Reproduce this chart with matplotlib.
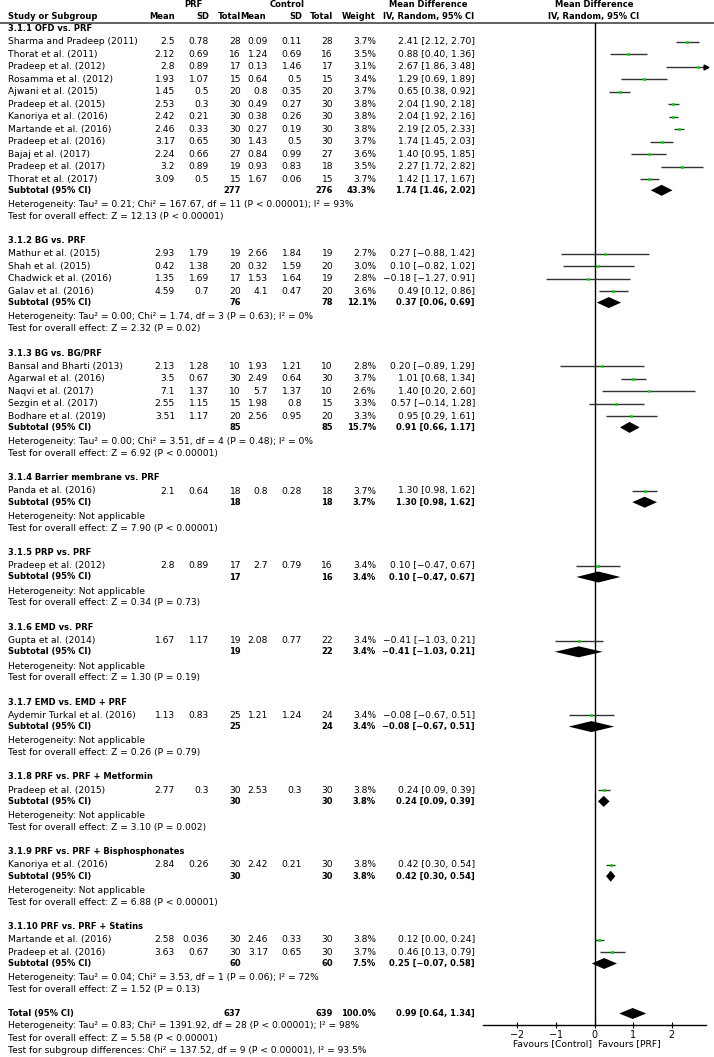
import matplotlib.pyplot as plt
from matplotlib.patches import Polygon

# subgroups
groups = ['3.1.1 OFD vs. PRF', '3.1.2 BG vs. PRF', '3.1.3 BG vs. BG/PRF',
          '3.1.4 Barrier membrane vs. PRF', '3.1.5 PRP vs. PRF', '3.1.6 EMD vs. PRF',
          '3.1.7 EMD vs. EMD + PRF', '3.1.8 PRF vs. PRF + Metformin',
          '3.1.9 PRF vs. PRF + Bisphosphonates', '3.1.10 PRF vs. PRF + Statins']
sub_n_prf = [277, 76, 85, 18, 17, 19, 25, 30, 30, 60]
sub_n_ctl = [276, 78, 85, 18, 16, 22, 24, 30, 30, 60]
sub_weight = [43.3, 12.1, 15.7, 3.7, 3.4, 3.4, 3.4, 3.8, 3.8, 7.5]
sub_md = [1.74, 0.37, 0.91, 1.30, 0.10, -0.41, -0.08, 0.24, 0.42, 0.25]
sub_lo = [1.46, 0.06, 0.66, 0.98, -0.47, -1.03, -0.67, 0.09, 0.30, -0.07]
sub_hi = [2.02, 0.69, 1.17, 1.62, 0.67, 0.21, 0.51, 0.39, 0.54, 0.58]
sub_het = ['Tau² = 0.21; Chi² = 167.67, df = 11 (P < 0.00001); I² = 93%',
           'Tau² = 0.00; Chi² = 1.74, df = 3 (P = 0.63); I² = 0%',
           'Tau² = 0.00; Chi² = 3.51, df = 4 (P = 0.48); I² = 0%',
           'Not applicable', 'Not applicable', 'Not applicable', 'Not applicable',
           'Not applicable', 'Not applicable',
           'Tau² = 0.04; Chi² = 3.53, df = 1 (P = 0.06); I² = 72%']
sub_z = ['Z = 12.13 (P < 0.00001)', 'Z = 2.32 (P = 0.02)', 'Z = 6.92 (P < 0.00001)',
         'Z = 7.90 (P < 0.00001)', 'Z = 0.34 (P = 0.73)', 'Z = 1.30 (P = 0.19)',
         'Z = 0.26 (P = 0.79)', 'Z = 3.10 (P = 0.002)', 'Z = 6.88 (P < 0.00001)',
         'Z = 1.52 (P = 0.13)']

# studies
studies = ['Sharma and Pradeep (2011)', 'Thorat et al. (2011)', 'Pradeep et al. (2012)',
           'Rosamma et al. (2012)', 'Ajwani et al. (2015)', 'Pradeep et al. (2015)',
           'Kanoriya et al. (2016)', 'Martande et al. (2016)', 'Pradeep et al. (2016)',
           'Bajaj et al. (2017)', 'Pradeep et al. (2017)', 'Thorat et al. (2017)',
           'Mathur et al. (2015)', 'Shah et al. (2015)', 'Chadwick et al. (2016)',
           'Galav et al. (2016)',
           'Bansal and Bharti (2013)', 'Agarwal et al. (2016)', 'Naqvi et al. (2017)',
           'Sezgin et al. (2017)', 'Bodhare et al. (2019)',
           'Panda et al. (2016)', 'Pradeep et al. (2012)', 'Gupta et al. (2014)',
           'Aydemir Turkal et al. (2016)', 'Pradeep et al. (2015)', 'Kanoriya et al. (2016)',
           'Martande et al. (2016)', 'Pradeep et al. (2016)']
study_group = [0] * 12 + [1] * 4 + [2] * 5 + [3, 4, 5, 6, 7, 8, 9, 9]
prf_mean = [2.5, 2.12, 2.8, 1.93, 1.45, 2.53, 2.42, 2.46, 3.17, 2.24, 3.2, 3.09,
            2.93, 0.42, 1.35, 4.59, 2.13, 3.5, 7.1, 2.55, 3.51,
            2.1, 2.8, 1.67, 1.13, 2.77, 2.84, 2.58, 3.63]
prf_sd = [0.78, 0.69, 0.89, 1.07, 0.5, 0.3, 0.21, 0.33, 0.65, 0.66, 0.89, 0.5,
          1.79, 1.38, 1.69, 0.7, 1.28, 0.67, 1.37, 1.15, 1.17,
          0.64, 0.89, 1.17, 0.83, 0.3, 0.26, 0.036, 0.67]
prf_n = [28, 16, 17, 15, 20, 30, 30, 30, 30, 27, 19, 15,
         19, 20, 17, 20, 10, 30, 10, 15, 20,
         18, 17, 19, 25, 30, 30, 30, 30]
ctl_mean = [0.09, 1.24, 0.13, 0.64, 0.8, 0.49, 0.38, 0.27, 1.43, 0.84, 0.93, 1.67,
            2.66, 0.32, 1.53, 4.1, 1.93, 2.49, 5.7, 1.98, 2.56,
            0.8, 2.7, 2.08, 1.21, 2.53, 2.42, 2.46, 3.17]
ctl_sd = [0.11, 0.69, 1.46, 0.5, 0.35, 0.27, 0.26, 0.19, 0.5, 0.99, 0.83, 0.06,
          1.84, 1.59, 1.64, 0.47, 1.21, 0.64, 1.37, 0.8, 0.95,
          0.28, 0.79, 0.77, 1.24, 0.3, 0.21, 0.33, 0.65]
ctl_n = [28, 16, 17, 15, 20, 30, 30, 30, 30, 27, 18, 15,
         19, 20, 19, 20, 10, 30, 10, 15, 20,
         18, 16, 22, 24, 30, 30, 30, 30]
weight = [3.7, 3.5, 3.1, 3.4, 3.7, 3.8, 3.8, 3.8, 3.7, 3.6, 3.5, 3.7,
          2.7, 3.0, 2.8, 3.6, 2.8, 3.7, 2.6, 3.3, 3.3,
          3.7, 3.4, 3.4, 3.4, 3.8, 3.8, 3.8, 3.7]
md = [2.41, 0.88, 2.67, 1.29, 0.65, 2.04, 2.04, 2.19, 1.74, 1.40, 2.27, 1.42,
      0.27, 0.10, -0.18, 0.49, 0.20, 1.01, 1.40, 0.57, 0.95,
      1.30, 0.10, -0.41, -0.08, 0.24, 0.42, 0.12, 0.46]
ci_lo = [2.12, 0.40, 1.86, 0.69, 0.38, 1.90, 1.92, 2.05, 1.45, 0.95, 1.72, 1.17,
         -0.88, -0.82, -1.27, 0.12, -0.89, 0.68, 0.20, -0.14, 0.29,
         0.98, -0.47, -1.03, -0.67, 0.09, 0.30, 0.00, 0.13]
ci_hi = [2.70, 1.36, 3.48, 1.89, 0.92, 2.18, 2.16, 2.33, 2.03, 1.85, 2.82, 1.67,
         1.42, 1.02, 0.91, 0.86, 1.29, 1.34, 2.60, 1.28, 1.61,
         1.62, 0.67, 0.21, 0.51, 0.39, 0.54, 0.24, 0.79]

total_n_prf, total_n_ctl = 637, 639
total_md, total_lo, total_hi = 0.99, 0.64, 1.34
total_notes = ['Heterogeneity: Tau² = 0.83; Chi² = 1391.92, df = 28 (P < 0.00001); I² = 98%',
               'Test for overall effect: Z = 5.58 (P < 0.00001)',
               'Test for subgroup differences: Chi² = 137.52, df = 9 (P < 0.00001), I² = 93.5%']

W, H = 714, 1057
FS = 6.55       # normal text
FSB = 6.05      # bold text (DejaVu bold runs wide)
xmin, xmax = -2.89, 2.89


def fmt_ci(m, lo, hi):
    s = f"{m:.2f} [{lo:.2f}, {hi:.2f}]"
    return s.replace('-', '\u2212')


fig = plt.figure(figsize=(W / 100, H / 100), dpi=100)
ax = fig.add_axes([0, 0, 1, 1])
ax.set_xlim(0, W)
ax.set_ylim(H, 0)
ax.axis('off')

# forest panel (y in same pixel units as the table)
top, bottom = 22.5, 1025
fx = fig.add_axes([483 / W, (H - bottom) / H, (706 - 483) / W, (bottom - top) / H])
fx.set_xlim(xmin, xmax)
fx.set_ylim(bottom, top)
fx.patch.set_alpha(0)
for s in ['top', 'left', 'right']:
    fx.spines[s].set_visible(False)
fx.spines['bottom'].set_linewidth(1)
fx.set_yticks([])
fx.set_xticks([-2, -1, 0, 1, 2])
fx.tick_params(axis='x', direction='inout', length=5, width=0.8, labelsize=FS + 0.3, pad=1)
fx.axvline(0, color='black', lw=1)


def put(x, y, s, ha='left', bold=False):
    ax.text(x, y, s, ha=ha, va='center', fontsize=FSB if bold else FS,
            fontweight='bold' if bold else 'normal')


# headers
put(193, 4.5, 'PRF', 'center', True)
put(287, 4.5, 'Control', 'center', True)
put(428, 4.5, 'Mean Difference', 'center', True)
put(594, 4.5, 'Mean Difference', 'center', True)
put(8, 16.7, 'Study or Subgroup', 'left', True)
for x, lab in [(175, 'Mean'), (209, 'SD'), (241, 'Total'), (266, 'Mean'),
               (302, 'SD'), (333, 'Total'), (376, 'Weight')]:
    put(x, 16.7, lab, 'right', True)
put(429, 16.7, 'IV, Random, 95% CI', 'center', True)
put(594, 16.7, 'IV, Random, 95% CI', 'center', True)
ax.axhline(22.5, color='#555555', lw=1.3)

col_x = [175, 209, 241, 268, 302, 333, 376, 475]
dh = 5.5  # diamond half height


def diamond(m, lo, hi, y):
    fx.add_patch(Polygon([(lo, y), (m, y - dh), (hi, y), (m, y + dh)],
                         closed=True, color='black', lw=0))


y = 28.3
for g, name in enumerate(groups):
    if g > 0:
        y += 24.3
    put(8, y, name, bold=True)
    y += 13.3
    idx = [i for i in range(len(studies)) if study_group[i] == g]
    for k, i in enumerate(idx):
        if k > 0:
            y += 12.5
        vals = [f"{prf_mean[i]:g}", f"{prf_sd[i]:g}", str(prf_n[i]),
                f"{ctl_mean[i]:g}", f"{ctl_sd[i]:g}", str(ctl_n[i]),
                f"{weight[i]:.1f}%", fmt_ci(md[i], ci_lo[i], ci_hi[i])]
        put(8, y, studies[i])
        for x, v in zip(col_x, vals):
            put(x, y, v, 'right')
        hi = min(ci_hi[i], xmax)
        fx.plot([ci_lo[i], hi], [y, y], color='#333333', lw=1, solid_capstyle='butt')
        if ci_hi[i] > xmax:
            fx.plot([xmax], [y], marker='>', color='black', ms=3.5, clip_on=False)
        fx.plot([md[i]], [y], marker='s', color='#00dd00', ms=weight[i] * 0.45,
                mec='#00dd00', mew=0.5)
    y += 11.2
    put(8, y, 'Subtotal (95% CI)', bold=True)
    put(241, y, str(sub_n_prf[g]), 'right', True)
    put(333, y, str(sub_n_ctl[g]), 'right', True)
    put(376, y, f"{sub_weight[g]:.1f}%", 'right', True)
    put(475, y, fmt_ci(sub_md[g], sub_lo[g], sub_hi[g]), 'right', True)
    diamond(sub_md[g], sub_lo[g], sub_hi[g], y)
    y += 14.3
    put(8, y, 'Heterogeneity: ' + sub_het[g])
    y += 11.7
    put(8, y, 'Test for overall effect: ' + sub_z[g])

y += 24
put(8, y, 'Total (95% CI)', bold=True)
put(241, y, str(total_n_prf), 'right', True)
put(333, y, str(total_n_ctl), 'right', True)
put(376, y, '100.0%', 'right', True)
put(475, y, fmt_ci(total_md, total_lo, total_hi), 'right', True)
diamond(total_md, total_lo, total_hi, y)
for note in total_notes:
    y += 12.5
    put(8, y, note)

put(592, 1044, 'Favours [Control]', 'right')
put(598, 1044, 'Favours [PRF]', 'left')

fig.savefig('out.png', dpi=100)
